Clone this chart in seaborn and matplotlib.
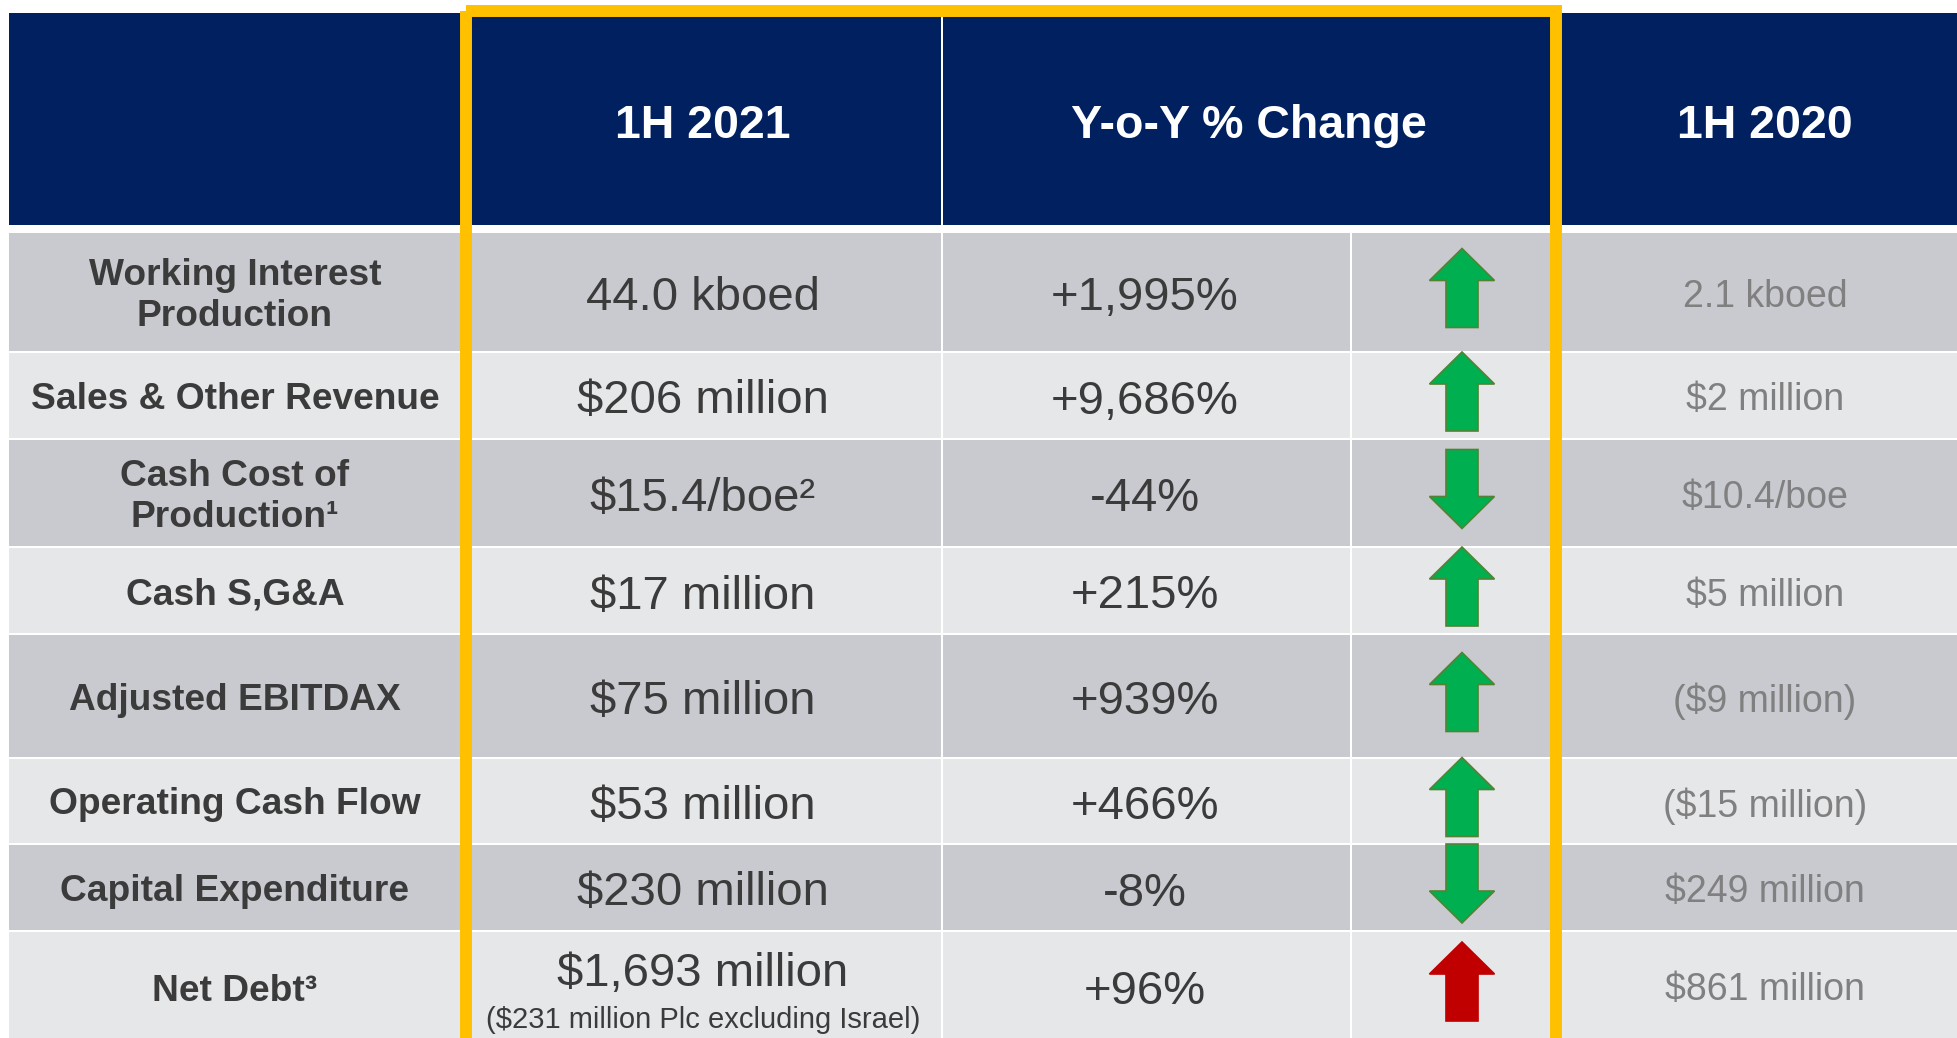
import numpy as np
import matplotlib
matplotlib.use("Agg")
import matplotlib.pyplot as plt
from matplotlib.patches import Rectangle, Polygon
import seaborn as sns

# --- datos de la tabla ---
metricas = [
    "Working Interest\nProduction",
    "Sales & Other Revenue",
    "Cash Cost of\nProduction\u00b9",
    "Cash S,G&A",
    "Adjusted EBITDAX",
    "Operating Cash Flow",
    "Capital Expenditure",
    "Net Debt\u00b3",
]
valores_1h2021 = [
    "44.0 kboed", "$206 million", "$15.4/boe\u00b2", "$17 million",
    "$75 million", "$53 million", "$230 million", "$1,693 million",
]
cambio_yoy = [1995, 9686, -44, 215, 939, 466, -8, 96]
favorable = [True, True, True, True, True, True, True, False]
valores_1h2020 = [
    "2.1 kboed", "$2 million", "$10.4/boe", "$5 million",
    "($9 million)", "($15 million)", "$249 million", "$861 million",
]
nota_deuda = "($231 million Plc excluding Israel)"
encabezados = ["1H 2021", "Y-o-Y % Change", "1H 2020"]

# --- estilo ---
sns.set_theme(style="white")
plt.rcParams["font.family"] = ["Liberation Sans", "DejaVu Sans"]

AZUL = "#002060"
GRIS_OSCURO = "#C9CAD0"
GRIS_CLARO = "#E6E7E9"
AMARILLO = "#FFC000"
TEXTO = "#3B3B3B"
TEXTO_GRIS = "#808080"
VERDE, VERDE_BORDE = "#00B050", "#548235"
ROJO = "#C00000"

W, H = 1958, 1038
fig = plt.figure(figsize=(W / 100, H / 100), dpi=100)
ax = fig.add_axes([0, 0, 1, 1])
ax.set_xlim(0, W)
ax.set_ylim(H, 0)
ax.axis("off")

# geometria (pixeles)
bordes_filas = [233, 353, 440, 548, 635, 759, 845, 932, 1041]
bordes_cols = [9, 466, 943, 1352, 1556, 1962]
tops = np.array(bordes_filas[:-1])
alturas = np.diff(bordes_filas) - 2
centros = tops + alturas / 2
colores_fila = [GRIS_OSCURO if i % 2 == 0 else GRIS_CLARO for i in range(len(metricas))]

# celdas del cuerpo
for j in range(len(bordes_cols) - 1):
    izq, der = bordes_cols[j], bordes_cols[j + 1] - 2
    ax.barh(centros, der - izq, left=izq, height=alturas, color=colores_fila, linewidth=0, zorder=1)

# encabezado
for izq, der in [(9, 941), (943, 1556), (1556, 1962)]:
    ax.barh(119, der - izq, left=izq, height=212, color=AZUL, linewidth=0, zorder=1)
for texto, xc in zip(encabezados, [703, 1249, 1765]):
    ax.text(xc, 126, texto, ha="center", va="center", color="white",
            fontsize=33.5, fontweight="bold", parse_math=False, zorder=3)

ult = len(metricas) - 1
for i, yc in enumerate(centros):
    # etiqueta de la fila
    ax.text(235, yc + (6 if i == ult else 4), metricas[i], ha="center", va="center",
            color=TEXTO, fontsize=26.7, fontweight="bold", linespacing=1.24,
            parse_math=False, zorder=3)
    # 1H 2021
    if i == ult:
        ax.text(703, yc - 11, valores_1h2021[i], ha="center", va="center", color=TEXTO,
                fontsize=34, parse_math=False, zorder=3)
        ax.text(703, yc + 35, nota_deuda, ha="center", va="center", color=TEXTO,
                fontsize=21, parse_math=False, zorder=3)
    else:
        ax.text(703, yc + 6, valores_1h2021[i], ha="center", va="center", color=TEXTO,
                fontsize=34, parse_math=False, zorder=3)
    # variacion interanual
    ax.text(1145, yc + 6, f"{cambio_yoy[i]:+,}%", ha="center", va="center",
            color=TEXTO, fontsize=34, parse_math=False, zorder=3)
    # 1H 2020
    ax.text(1765, yc + 5, valores_1h2020[i], ha="center", va="center",
            color=TEXTO_GRIS, fontsize=27, parse_math=False, zorder=3)

    # flecha de tendencia
    s = -1 if cambio_yoy[i] > 0 else 1
    xa, ya = 1462, yc - 4
    forma = np.array([(0, -39.5), (32.5, -7.5), (16, -7.5), (16, 39.5),
                      (-16, 39.5), (-16, -7.5), (-32.5, -7.5)])
    forma[:, 1] *= -s
    color = VERDE if favorable[i] else ROJO
    borde = VERDE_BORDE if favorable[i] else ROJO
    ax.add_patch(Polygon(forma + [xa, ya], closed=True, facecolor=color,
                         edgecolor=borde, linewidth=1.2, zorder=3))

# recuadro amarillo de 1H 2021 y variacion (borde inferior casi recortado)
ax.add_patch(Rectangle((466, 11), 1556 - 466, 1030, fill=False, edgecolor=AMARILLO,
                       linewidth=8.6, joinstyle="miter", zorder=4))

fig.savefig("out.png", dpi=100, facecolor="white")
